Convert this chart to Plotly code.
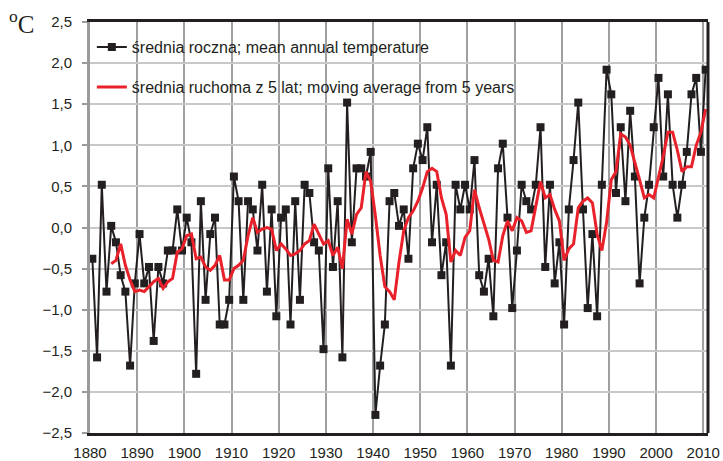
import plotly.graph_objects as go

years = list(range(1880, 2011))
annual_mean = [
    -0.38, -1.58, 0.52, -0.78, 0.02, -0.18, -0.58, -0.78, -1.68, -0.68,
    -0.08, -0.68, -0.48, -1.38, -0.48, -0.68, -0.28, -0.28, 0.22, -0.28,
    0.12, -0.18, -1.78, 0.32, -0.88, -0.08, 0.12, -1.18, -1.18, -0.88,
    0.62, 0.32, -0.88, 0.32, 0.22, -0.28, 0.52, -0.78, 0.22, -1.08,
    0.12, 0.22, -1.18, 0.32, -0.88, 0.52, 0.42, -0.18, -0.28, -1.48,
    0.72, -0.48, 0.32, -1.58, 1.52, -0.18, 0.72, 0.72, 0.62, 0.92,
    -2.28, -1.68, -1.18, 0.32, 0.42, 0.02, 0.22, -0.38, 0.72, 1.02,
    0.82, 1.22, -0.18, 0.52, -0.58, -0.18, -1.68, 0.52, 0.22, 0.52,
    0.22, 0.82, -0.58, -0.78, -0.38, -1.08, 0.72, 1.02, 0.12, -0.98,
    -0.28, 0.52, 0.32, 0.22, 0.52, 1.22, -0.48, 0.52, -0.68, -0.18,
    -1.18, 0.22, 0.82, 1.52, 0.22, -0.98, -0.08, -1.08, 0.52, 1.92,
    1.62, 0.42, 1.22, 0.32, 1.42, 0.62, -0.68, 0.12, 0.52, 1.22,
    1.82, 0.62, 1.62, 0.52, 0.12, 0.52, 0.92, 1.62, 1.82, 0.92,
    1.92,
]

ma_years = list(range(1884, 2011))
moving_avg = [
    -0.44, -0.40, -0.20, -0.46, -0.64, -0.78,
    -0.76, -0.78, -0.72, -0.66, -0.62, -0.74, -0.66, -0.62, -0.30, -0.26,
    -0.10, -0.08, -0.38, -0.36, -0.48, -0.52, -0.46, -0.34, -0.64, -0.64,
    -0.50, -0.46, -0.40, -0.10, 0.12, -0.06, -0.02, 0.00, -0.02, -0.28,
    -0.20, -0.26, -0.34, -0.32, -0.28, -0.20, -0.16, 0.04, -0.08, -0.20,
    -0.16, -0.34, -0.24, -0.50, 0.10, -0.08, 0.16, 0.24, 0.68, 0.56,
    0.14, -0.34, -0.72, -0.78, -0.88, -0.42, -0.04, 0.12, 0.20, 0.32,
    0.48, 0.68, 0.72, 0.68, 0.36, 0.16, -0.42, -0.28, -0.34, -0.12,
    -0.04, 0.46, 0.24, 0.04, -0.14, -0.40, -0.42, -0.10, 0.08, -0.04,
    0.12, 0.08, -0.06, -0.04, 0.26, 0.56, 0.36, 0.40, 0.22, 0.08,
    -0.40, -0.26, -0.20, 0.24, 0.32, 0.36, 0.30, -0.08, -0.28, 0.06,
    0.58, 0.68, 1.14, 1.10, 1.00, 0.80, 0.58, 0.36, 0.40, 0.36,
    0.60, 0.86, 1.16, 1.16, 0.94, 0.68, 0.74, 0.74, 1.00, 1.16,
    1.44,
]

x_tick_labels = list(range(1880, 2011, 10))
y_ticks = [-2.5, -2.0, -1.5, -1.0, -0.5, 0.0, 0.5, 1.0, 1.5, 2.0, 2.5]

label_annual = "średnia roczna; mean annual temperature"
label_ma = "średnia ruchoma z 5 lat; moving average from 5 years"

DARK = "#231f20"
RED = "#e8212b"
FONT = "Liberation Sans, Arial, sans-serif"

fig = go.Figure()
fig.add_trace(go.Scatter(
    x=years, y=annual_mean, mode="lines+markers", name=label_annual,
    line=dict(color=DARK, width=2),
    marker=dict(symbol="square", size=8, color=DARK),
    legendgroup="a",
))
fig.add_trace(go.Scatter(
    x=ma_years, y=moving_avg, mode="lines", name=label_ma,
    line=dict(color=RED, width=3),
    legendgroup="b",
))

fig.update_layout(
    width=723, height=461,
    margin=dict(l=90, r=15, t=22, b=28, autoexpand=False),
    paper_bgcolor="white", plot_bgcolor="white",
    separators=", ",
    font=dict(family=FONT, size=15, color=DARK),
    showlegend=True,
    legend=dict(
        x=0.003, y=0.98, xanchor="left", yanchor="top",
        bgcolor="rgba(255,255,255,0)", borderwidth=0,
        font=dict(family=FONT, size=16, color=DARK),
        tracegroupgap=16,
        itemwidth=30,
    ),
    xaxis=dict(
        range=[1879.5, 2010.5],
        tickvals=[v - 0.5 for v in x_tick_labels],
        ticktext=[str(v) for v in x_tick_labels],
        ticks="",
        ticklabelstandoff=4,
        showgrid=True, gridcolor="#a0a0a0", gridwidth=1.5,
        showline=True, linecolor=DARK, linewidth=3, mirror=True,
        zeroline=False, automargin=False,
        tickfont=dict(family=FONT, size=15, color=DARK),
    ),
    yaxis=dict(
        range=[-2.5, 2.5],
        tickvals=y_ticks,
        tickformat=".1f",
        ticks="outside", ticklen=5, tickcolor="#9a9a9a", tickwidth=1.5,
        ticklabelstandoff=7,
        showgrid=True, gridcolor="#c8c8c8", gridwidth=1.5,
        showline=True, linecolor="#9a9a9a", linewidth=3,
        zeroline=False, automargin=False,
        tickfont=dict(family=FONT, size=15, color=DARK),
    ),
    shapes=[
        # white legend background box hiding the grid
        dict(type="rect", xref="paper", yref="paper",
             x0=0.018, x1=0.697, y0=0.8175, y1=0.9665,
             fillcolor="white", line=dict(width=0), layer="between"),
        # dark right border of the frame
        dict(type="line", xref="paper", yref="paper",
             x0=1, x1=1, y0=0, y1=1,
             line=dict(color=DARK, width=3)),
    ],
    annotations=[dict(
        text="<sup>o</sup>C", xref="paper", yref="paper",
        x=-0.135, y=1.045, xanchor="left", yanchor="top",
        showarrow=False,
        font=dict(family="Liberation Serif, Times New Roman, serif", size=25, color=DARK),
    )],
)

fig.write_html("out.html", config={"displayModeBar": False},
               post_script="document.body.style.margin='0';")
